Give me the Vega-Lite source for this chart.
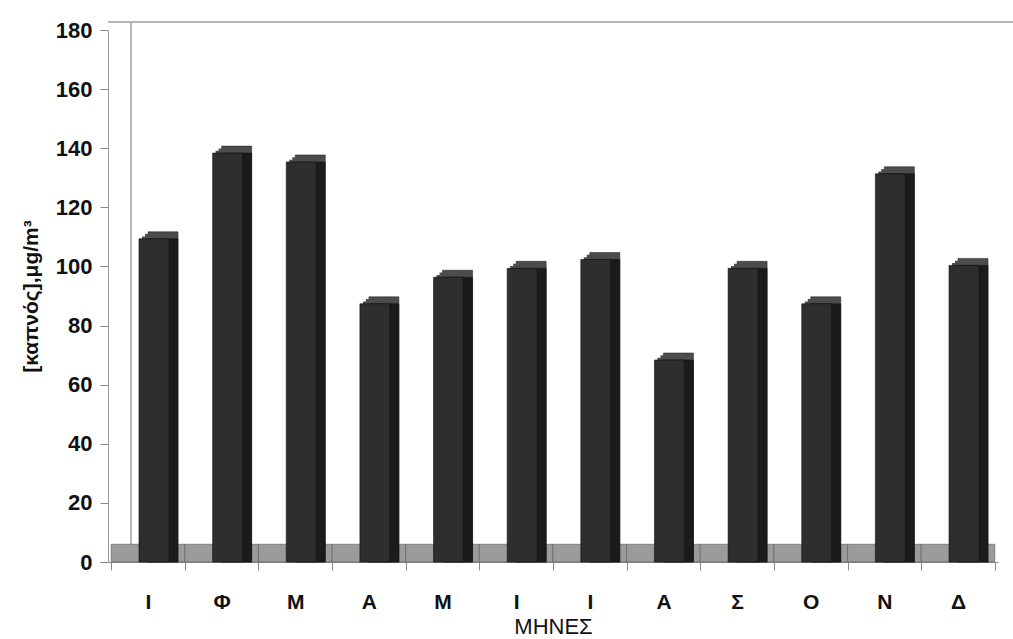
{
  "$schema": "https://vega.github.io/schema/vega-lite/v6.json",
  "width": 890,
  "height": 532,
  "autosize": "none",
  "padding": {"left": 108, "top": 30, "right": 15, "bottom": 77},
  "background": "white",
  "config": {
    "view": {"stroke": null},
    "font": "Liberation Sans",
    "axisY": {
      "grid": false,
      "domainColor": "#9a9a9a",
      "tickColor": "#8a8a8a",
      "tickSize": 8,
      "labelFontSize": 22,
      "labelFontWeight": "bold",
      "labelColor": "#111111",
      "labelPadding": 8,
      "titleFontSize": 21,
      "titleFontWeight": "bold",
      "titleColor": "#111111",
      "titlePadding": 14
    },
    "axisX": {
      "grid": false,
      "domainColor": "#8a8a8a",
      "tickColor": "#8a8a8a",
      "tickSize": 8,
      "tickBand": "extent",
      "labelAngle": 0,
      "labelFontSize": 21,
      "labelFontWeight": "bold",
      "labelColor": "#111111",
      "labelPadding": 21,
      "titleFontSize": 22,
      "titleFontWeight": "normal",
      "titleColor": "#111111",
      "titlePadding": 4
    }
  },
  "data": {
    "values": [
      {"month": "Ιανουάριος", "v": 108},
      {"month": "Φεβρουάριος", "v": 137},
      {"month": "Μάρτιος", "v": 134},
      {"month": "Απρίλιος", "v": 86},
      {"month": "Μάιος", "v": 95},
      {"month": "Ιούνιος", "v": 98},
      {"month": "Ιούλιος", "v": 101},
      {"month": "Αύγουστος", "v": 67},
      {"month": "Σεπτέμβριος", "v": 98},
      {"month": "Οκτώβριος", "v": 86},
      {"month": "Νοέμβριος", "v": 130},
      {"month": "Δεκέμβριος", "v": 99}
    ]
  },
  "layer": [
    {
      "mark": {"type": "rule", "color": "#b5b5b5", "strokeWidth": 1, "xOffset": 22, "yOffset": -8},
      "encoding": {
        "y": {
          "datum": 180, "type": "quantitative",
          "scale": {"domain": [0, 180]},
          "title": "[καπνός],μg/m³",
          "axis": {"values": [0, 20, 40, 60, 80, 100, 120, 140, 160, 180]}
        }
      }
    },
    {
      "mark": {"type": "rule", "color": "#b5b5b5", "strokeWidth": 1, "xOffset": 20, "yOffset": -8},
      "encoding": {
        "x": {"datum": "Ιανουάριος", "type": "ordinal", "bandPosition": 0},
        "y": {"datum": 180, "type": "quantitative", "title": "[καπνός],μg/m³"},
        "y2": {"datum": 3}
      }
    },
    {
      "mark": {"type": "rect", "color": "#9b9b9b", "stroke": "#5a5a5a", "strokeWidth": 0.6},
      "encoding": {
        "x": {
          "field": "month", "type": "ordinal", "sort": null,
          "scale": {"paddingInner": 0, "paddingOuter": 0.043},
          "axis": {"title": "ΜΗΝΕΣ", "labelExpr": "upper(slice(datum.label, 0, 1))"}
        },
        "y": {"datum": 6, "type": "quantitative", "title": "[καπνός],μg/m³"},
        "y2": {"datum": 0}
      }
    },
    {
      "mark": {"type": "bar", "color": "#4c4c4c", "stroke": "#1a1a1a", "strokeWidth": 0.5, "width": 30, "xOffset": 15, "yOffset": -11},
      "encoding": {
        "x": {"field": "month", "type": "ordinal", "sort": null},
        "y": {"field": "v", "type": "quantitative", "stack": null, "title": "[καπνός],μg/m³"}
      }
    },
    {
      "mark": {"type": "bar", "color": "#4c4c4c", "width": 30, "xOffset": 12, "yOffset": -8.7},
      "encoding": {
        "x": {"field": "month", "type": "ordinal", "sort": null},
        "y": {"field": "v", "type": "quantitative", "stack": null, "title": "[καπνός],μg/m³"}
      }
    },
    {
      "mark": {"type": "bar", "color": "#4c4c4c", "width": 30, "xOffset": 9, "yOffset": -6.3},
      "encoding": {
        "x": {"field": "month", "type": "ordinal", "sort": null},
        "y": {"field": "v", "type": "quantitative", "stack": null, "title": "[καπνός],μg/m³"}
      }
    },
    {
      "mark": {"type": "bar", "color": "#1b1b1b", "stroke": "#111111", "strokeWidth": 0.5, "width": 30, "xOffset": 15, "yOffset": -4},
      "encoding": {
        "x": {"field": "month", "type": "ordinal", "sort": null},
        "y": {"field": "v", "type": "quantitative", "stack": null, "title": "[καπνός],μg/m³"}
      }
    },
    {
      "mark": {"type": "bar", "color": "#2e2e2e", "stroke": "#111111", "strokeWidth": 0.6, "width": 30, "xOffset": 6, "yOffset": -4},
      "encoding": {
        "x": {"field": "month", "type": "ordinal", "sort": null},
        "y": {"field": "v", "type": "quantitative", "stack": null, "title": "[καπνός],μg/m³"}
      }
    }
  ]
}
